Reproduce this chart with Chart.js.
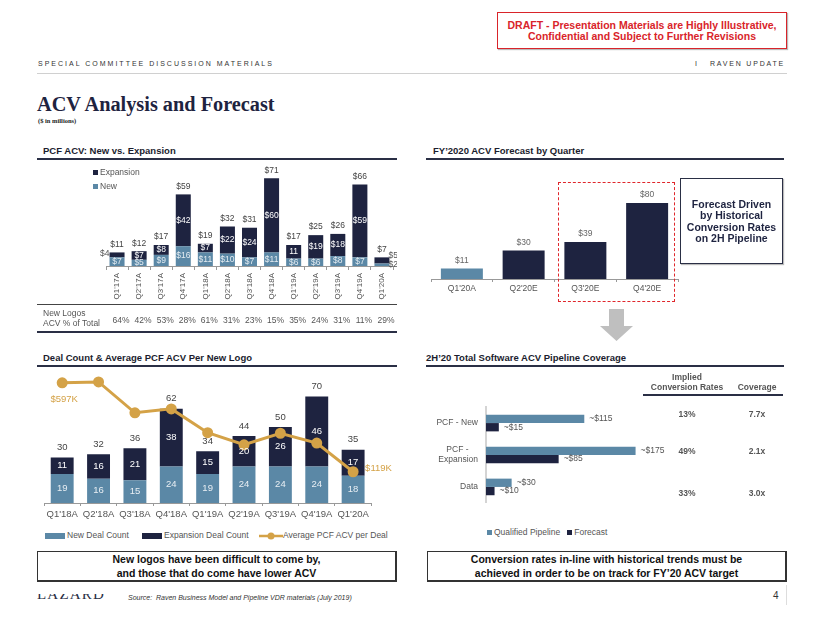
<!DOCTYPE html>
<html><head><meta charset="utf-8">
<script src="https://cdn.jsdelivr.net/npm/chart.js@4"></script>
<style>
body{margin:0;background:#fff;width:822px;height:635px;position:relative;overflow:hidden;font-family:"Liberation Sans",Arial,sans-serif;color:#555;}
.a{position:absolute;white-space:nowrap;}
canvas{position:absolute;}
.sec{position:absolute;font-weight:bold;font-size:9.5px;color:#1b1d2e;line-height:12px;}
.ul{position:absolute;height:2px;background:#2a2f45;}
.nar{font-family:"Liberation Sans Narrow","Liberation Sans",Arial,sans-serif;}
.leg{position:absolute;font-size:8.5px;line-height:10px;color:#555;white-space:nowrap;}
.sw{display:inline-block;vertical-align:middle;margin-right:2px;}
</style></head><body>

<!-- header -->
<div class="a nar" style="left:497px;top:12px;width:290px;height:37px;box-sizing:border-box;border:1.5px solid #d9242a;box-shadow:1px 1px 1px #bbb;color:#d9242a;font-weight:bold;font-size:10.5px;line-height:11px;text-align:center;padding-top:7px;">DRAFT - Presentation Materials are Highly Illustrative,<br>Confidential and Subject to Further Revisions</div>
<div class="a" style="left:38px;top:59px;font-size:7px;line-height:10px;letter-spacing:2px;color:#333;">SPECIAL COMMITTEE DISCUSSION MATERIALS</div>
<div class="a" style="left:695px;top:59px;font-size:7px;line-height:10px;letter-spacing:1.8px;color:#333;">I &nbsp;&nbsp;RAVEN UPDATE</div>
<div class="a" style="left:37px;top:73px;width:750px;height:1px;background:#d0d0d0;"></div>
<div class="a" style="left:37px;top:93px;font-family:'Liberation Serif',serif;font-weight:bold;font-size:20.3px;line-height:22px;color:#1e2340;">ACV Analysis and Forecast</div>
<div class="a" style="left:38px;top:117px;font-family:'Liberation Serif',serif;font-weight:bold;font-size:6.5px;line-height:8px;color:#222;">($ in millions)</div>

<!-- section titles -->
<div class="sec" style="left:43px;top:145px;">PCF ACV: New vs. Expansion</div>
<div class="ul" style="left:37px;top:158px;width:360px;"></div>
<div class="sec" style="left:433px;top:145px;">FY’2020 ACV Forecast by Quarter</div>
<div class="ul" style="left:426px;top:158px;width:358px;"></div>
<div class="sec" style="left:43px;top:352px;">Deal Count &amp; Average PCF ACV Per New Logo</div>
<div class="ul" style="left:37px;top:365px;width:360px;"></div>
<div class="sec" style="left:426px;top:352px;">2H’20 Total Software ACV Pipeline Coverage</div>
<div class="ul" style="left:426px;top:365px;width:358px;"></div>

<!-- chart 1 -->
<canvas id="c1" width="360" height="173" style="left:37px;top:162px;"></canvas>
<div class="leg" style="left:93px;top:167px;"><span class="sw" style="width:5px;height:5px;background:#1e2340;"></span>Expansion</div>
<div class="leg" style="left:93px;top:181px;"><span class="sw" style="width:5px;height:5px;background:#5b88a6;"></span>New</div>
<div class="a" style="left:37px;top:304px;width:360px;height:1px;background:#444;"></div>
<div class="a" style="left:43px;top:308px;font-size:8.5px;line-height:10px;color:#555;">New Logos<br>ACV % of Total</div>
<div class="a" style="left:37px;top:331px;width:360px;height:2px;background:#2a2f45;"></div>

<!-- chart 2 -->
<canvas id="c2" width="260" height="112" style="left:425px;top:186px;"></canvas>
<div class="a" style="left:558px;top:182px;width:117px;height:120px;box-sizing:border-box;border:1.5px dashed #e0262b;"></div>
<div class="a" style="left:680px;top:178px;width:103px;height:86px;box-sizing:border-box;border:1.5px solid #2a2f45;box-shadow:1px 1px 1px #bbb;color:#1e2340;font-weight:bold;font-size:10.5px;line-height:11.4px;text-align:center;padding-top:20px;">Forecast Driven<br>by Historical<br>Conversion Rates<br>on 2H Pipeline</div>
<svg class="a" style="left:598px;top:308px;" width="38" height="34"><polygon points="11,1 26,1 26,18 35,18 18.5,33 2,18 11,18" fill="#bfbfbf"/></svg>

<!-- chart 3 -->
<canvas id="c3" width="363" height="152" style="left:37px;top:371px;"></canvas>
<div class="leg" style="left:45px;top:530px;"><span class="sw" style="width:20px;height:6px;background:#5b88a6;"></span>New Deal Count</div>
<div class="leg" style="left:142px;top:530px;"><span class="sw" style="width:20px;height:6px;background:#1e2340;"></span>Expansion Deal Count</div>
<div class="leg" style="left:259px;top:530px;"><svg class="sw" width="24" height="8" style="margin-right:0"><line x1="0" y1="4" x2="24" y2="4" stroke="#d4a247" stroke-width="2.5"/><circle cx="12" cy="4" r="3.5" fill="#d4a247"/></svg>Average PCF ACV per Deal</div>

<!-- chart 4 -->
<canvas id="c4" width="265" height="122" style="left:425px;top:394px;"></canvas>
<div class="a" style="left:637px;top:372px;width:100px;text-align:center;font-weight:bold;font-size:8.5px;line-height:10px;color:#555;">Implied<br>Conversion Rates</div>
<div class="a" style="left:727px;top:382px;width:60px;text-align:center;font-weight:bold;font-size:8.5px;line-height:10px;color:#555;">Coverage</div>
<div class="a" style="left:643px;top:394px;width:140px;height:1.5px;background:#2a2f45;"></div>
<div id="tbl4"></div>
<div class="leg" style="left:487px;top:527px;"><span class="sw" style="width:5px;height:5px;background:#5b88a6;"></span>Qualified Pipeline&nbsp;&nbsp;&nbsp;<span class="sw" style="width:5px;height:5px;background:#1e2340;"></span>Forecast</div>

<!-- footer -->
<div class="a nar" style="left:37px;top:551px;width:360px;height:31px;box-sizing:border-box;border:1px solid #333;border-right-width:2px;border-bottom-width:2px;text-align:center;font-weight:bold;font-size:10.5px;line-height:13.5px;color:#111;padding-top:1px;">New logos have been difficult to come by,<br>and those that do come have lower ACV</div>
<div class="a nar" style="left:427px;top:551px;width:360px;height:31px;box-sizing:border-box;border:1px solid #333;border-right-width:2px;border-bottom-width:2px;text-align:center;font-weight:bold;font-size:10.5px;line-height:13.5px;color:#111;padding-top:1px;">Conversion rates in-line with historical trends must be<br>achieved in order to be on track for FY’20 ACV target</div>
<div class="a" style="left:37px;top:594px;height:6px;width:70px;overflow:hidden;"><div style="position:absolute;left:0;top:-8px;font-family:'Liberation Serif',serif;font-size:15px;line-height:16px;letter-spacing:1.2px;color:#2a2f45;">LAZARD</div></div>
<div class="a" style="left:128px;top:593px;font-style:italic;font-size:7px;line-height:9px;color:#333;">Source:&nbsp; Raven Business Model and Pipeline VDR materials (July 2019)</div>
<div class="a" style="left:773px;top:590px;font-size:10px;line-height:12px;color:#333;">4</div>
<div class="a" style="left:786px;top:585px;width:1px;height:20px;background:#ddd;"></div>

<script>
const NAVY = '#1e2340', STEEL = '#5b88a6', GOLD = '#d4a247';
Chart.defaults.font.family = '"Liberation Sans", Arial, sans-serif';
Chart.defaults.color = '#555';

// ---- PCF ACV: New vs. Expansion ----
const acvQuarters = ["Q1'17A","Q2'17A","Q3'17A","Q4'17A","Q1'18A","Q2'18A","Q3'18A","Q4'18A","Q1'19A","Q2'19A","Q3'19A","Q4'19A","Q1'20A"];
const newAcv = [7,5,9,16,11,10,7,11,6,6,8,7,2];
const expansionAcv = [4,7,8,42,7,22,24,60,11,19,18,59,5];
const totalAcv = [11,12,17,59,19,32,31,71,17,25,26,66,7];
const expansionLabelText = ['$4','$7','$8','$42','$7','$22','$24','$60','11','$19','$18','$59','$5'];
const newLogoSharePct = [64,42,53,28,61,31,23,15,35,24,31,11,29];

// ---- FY'2020 ACV Forecast by Quarter ----
const forecastQuarters = ["Q1'20A","Q2'20E","Q3'20E","Q4'20E"];
const forecastAcv = [11,30,39,80];

// ---- Deal Count & Average PCF ACV Per New Logo ----
const dealQuarters = ["Q1'18A","Q2'18A","Q3'18A","Q4'18A","Q1'19A","Q2'19A","Q3'19A","Q4'19A","Q1'20A"];
const newDealCount = [19,16,15,24,19,24,24,24,18];
const expansionDealCount = [11,16,21,38,15,20,26,46,17];
const totalDealCount = [30,32,36,62,34,44,50,70,35];
const avgAcvPerDealK = [597,602,436,457,329,264,326,273,119];

// ---- 2H'20 Total Software ACV Pipeline Coverage ----
const pipelineCategories = ['PCF - New', ['PCF -    ','Expansion'], 'Data'];
const qualifiedPipeline = [115,175,30];
const forecastPipeline = [15,85,10];
const conversionRates = ['13%','49%','33%'];
const coverageMultiples = ['7.7x','2.1x','3.0x'];

function txt(ctx, s, x, y, color, size, align, bold) {
  ctx.save();
  ctx.font = (bold ? 'bold ' : '') + size + 'px "Liberation Sans", Arial, sans-serif';
  ctx.fillStyle = color; ctx.textAlign = align || 'center'; ctx.textBaseline = 'middle';
  ctx.fillText(s, x, y); ctx.restore();
}
const base = {responsive:false, animation:false, devicePixelRatio:1,
  plugins:{legend:{display:false}, tooltip:{enabled:false}}};

// Chart 1
new Chart(document.getElementById('c1'), {
  type:'bar',
  data:{labels:acvQuarters, datasets:[
    {label:'New', data:newAcv, backgroundColor:STEEL, stack:'s'},
    {label:'Expansion', data:expansionAcv, backgroundColor:NAVY, stack:'s'}]},
  options:Object.assign({}, base, {
    layout:{padding:{left:69, right:4, top:4, bottom:0}},
    datasets:{bar:{barPercentage:0.68, categoryPercentage:1}},
    scales:{
      x:{stacked:true, grid:{drawOnChartArea:false, offset:true, tickLength:4, color:'#999'}, border:{color:'#999'},
         ticks:{minRotation:90, maxRotation:90, font:{size:8}, color:'#555', padding:3, autoSkip:false},
         afterFit(s){ s.height = 69; }},
      y:{stacked:true, display:false, min:0, max:81}
    }}),
  plugins:[{id:'l1', afterDatasetsDraw(chart){
    const ctx = chart.ctx, m0 = chart.getDatasetMeta(0), m1 = chart.getDatasetMeta(1), n = acvQuarters.length;
    for (let i = 0; i < n; i++) {
      const b0 = m0.data[i], b1 = m1.data[i], hw = b0.width/2;
      if (i === n-1) {
        txt(ctx, expansionLabelText[i], b1.x+hw-1, b1.y-2, '#555', 8.5, 'left');
        txt(ctx, '$'+newAcv[i], b0.x+hw-1, b0.base-1, '#555', 8.5, 'left');
      } else if (i === 0) {
        txt(ctx, expansionLabelText[i], b1.x-hw, (b1.y+b1.base)/2-1, '#555', 8.5, 'right');
        txt(ctx, '$'+newAcv[i], b0.x, (b0.y+b0.base)/2, '#e4ecf2', 8.5);
      } else {
        txt(ctx, expansionLabelText[i], b1.x, (b1.y+b1.base)/2, '#ffffff', 8.5);
        txt(ctx, '$'+newAcv[i], b0.x, (b0.y+b0.base)/2, '#e4ecf2', 8.5);
      }
      txt(ctx, '$'+totalAcv[i], b1.x, b1.y-8, '#444', 8.5);
      txt(ctx, newLogoSharePct[i]+'%', chart.scales.x.getPixelForValue(i)+4, 159, '#555', 8.5);
    }
  }}]
});

// Chart 2
new Chart(document.getElementById('c2'), {
  type:'bar',
  data:{labels:forecastQuarters, datasets:[{label:'ACV', data:forecastAcv,
    backgroundColor:c => forecastQuarters[c.dataIndex].endsWith('A') ? STEEL : NAVY}]},
  options:Object.assign({}, base, {
    layout:{padding:{left:6, right:7, top:4, bottom:0}},
    datasets:{bar:{barPercentage:0.68, categoryPercentage:1}},
    scales:{
      x:{grid:{drawOnChartArea:false, offset:true, tickLength:3, color:'#999'}, border:{color:'#999'},
         ticks:{font:{size:8.5}, color:'#555', padding:2}, afterFit(s){ s.height = 19; }},
      y:{display:false, min:0, max:93.7}
    }}),
  plugins:[{id:'l2', afterDatasetsDraw(chart){
    const ctx = chart.ctx, m = chart.getDatasetMeta(0);
    m.data.forEach((b,i) => txt(ctx, '$'+forecastAcv[i], b.x, b.y-8, '#666', 8.5));
  }}]
});

// Chart 3
new Chart(document.getElementById('c3'), {
  type:'bar',
  data:{labels:dealQuarters, datasets:[
    {label:'New Deal Count', data:newDealCount, backgroundColor:STEEL, stack:'s', order:1},
    {label:'Expansion Deal Count', data:expansionDealCount, backgroundColor:NAVY, stack:'s', order:1},
    {type:'line', label:'Average PCF ACV per Deal', data:avgAcvPerDealK, yAxisID:'y2', order:0,
     borderColor:GOLD, borderWidth:3, pointRadius:4, pointBackgroundColor:GOLD, pointBorderColor:GOLD, clip:false, tension:0}]},
  options:Object.assign({}, base, {
    layout:{padding:{left:4.7, right:28.7, top:4, bottom:0}},
    datasets:{bar:{barPercentage:0.63, categoryPercentage:1}},
    scales:{
      x:{stacked:true, grid:{drawOnChartArea:false, offset:true, tickLength:3, color:'#999'}, border:{color:'#999'},
         ticks:{font:{size:9.5}, color:'#555', padding:3, minRotation:0, maxRotation:0, autoSkip:false},
         afterFit(s){ s.height = 20; }},
      y:{stacked:true, display:false, min:0, max:82.2},
      y2:{display:false, min:-49, max:623}
    }}),
  plugins:[{id:'l3', afterDatasetsDraw(chart){
    const ctx = chart.ctx, m0 = chart.getDatasetMeta(0), m1 = chart.getDatasetMeta(1), m2 = chart.getDatasetMeta(2);
    for (let i = 0; i < dealQuarters.length; i++) {
      const b0 = m0.data[i], b1 = m1.data[i];
      txt(ctx, String(newDealCount[i]), b0.x, (b0.y+b0.base)/2, '#e8eef3', 9.5);
      txt(ctx, String(expansionDealCount[i]), b1.x, (b1.y+b1.base)/2, '#ffffff', 9.5);
      txt(ctx, String(totalDealCount[i]), b1.x, b1.y-10, '#444', 9.5);
    }
    const p0 = m2.data[0], pl = m2.data[m2.data.length-1];
    txt(ctx, '$'+avgAcvPerDealK[0]+'K', p0.x+2, p0.y+17, GOLD, 9.5);
    txt(ctx, '$'+avgAcvPerDealK[avgAcvPerDealK.length-1]+'K', pl.x+12, pl.y-3, GOLD, 9.5, 'left');
  }}]
});

// Chart 4
new Chart(document.getElementById('c4'), {
  type:'bar',
  data:{labels:pipelineCategories, datasets:[
    {label:'Qualified Pipeline', data:qualifiedPipeline, backgroundColor:STEEL},
    {label:'Forecast', data:forecastPipeline, backgroundColor:NAVY}]},
  options:Object.assign({}, base, {
    indexAxis:'y',
    layout:{padding:{left:0, right:4, top:4, bottom:4}},
    datasets:{bar:{barPercentage:1, categoryPercentage:0.52}},
    scales:{
      x:{display:false, min:0, max:234},
      y:{grid:{display:false, drawTicks:false}, border:{display:true, color:'#d4d4d4', width:2},
         ticks:{font:{size:8.5}, color:'#555', padding:8}, afterFit(s){ s.width = 61; }}
    }}),
  plugins:[{id:'l4', afterDatasetsDraw(chart){
    const ctx = chart.ctx, m0 = chart.getDatasetMeta(0), m1 = chart.getDatasetMeta(1);
    m0.data.forEach((b,i) => txt(ctx, '~$'+qualifiedPipeline[i], b.x+5, b.y, '#555', 8.5, 'left'));
    m1.data.forEach((b,i) => txt(ctx, '~$'+forecastPipeline[i], b.x+5, b.y, '#555', 8.5, 'left'));
  }}]
});

// table beside chart 4
const rowY = [414, 451, 493];
let h = '';
rowY.forEach((y,i) => {
  h += '<div class="a" style="left:657px;top:'+(y-5)+'px;width:60px;text-align:center;font-weight:bold;font-size:8.5px;line-height:10px;color:#555;">'+conversionRates[i]+'</div>';
  h += '<div class="a" style="left:727px;top:'+(y-5)+'px;width:60px;text-align:center;font-weight:bold;font-size:8.5px;line-height:10px;color:#555;">'+coverageMultiples[i]+'</div>';
});
document.getElementById('tbl4').innerHTML = h;
</script>
</body></html>
